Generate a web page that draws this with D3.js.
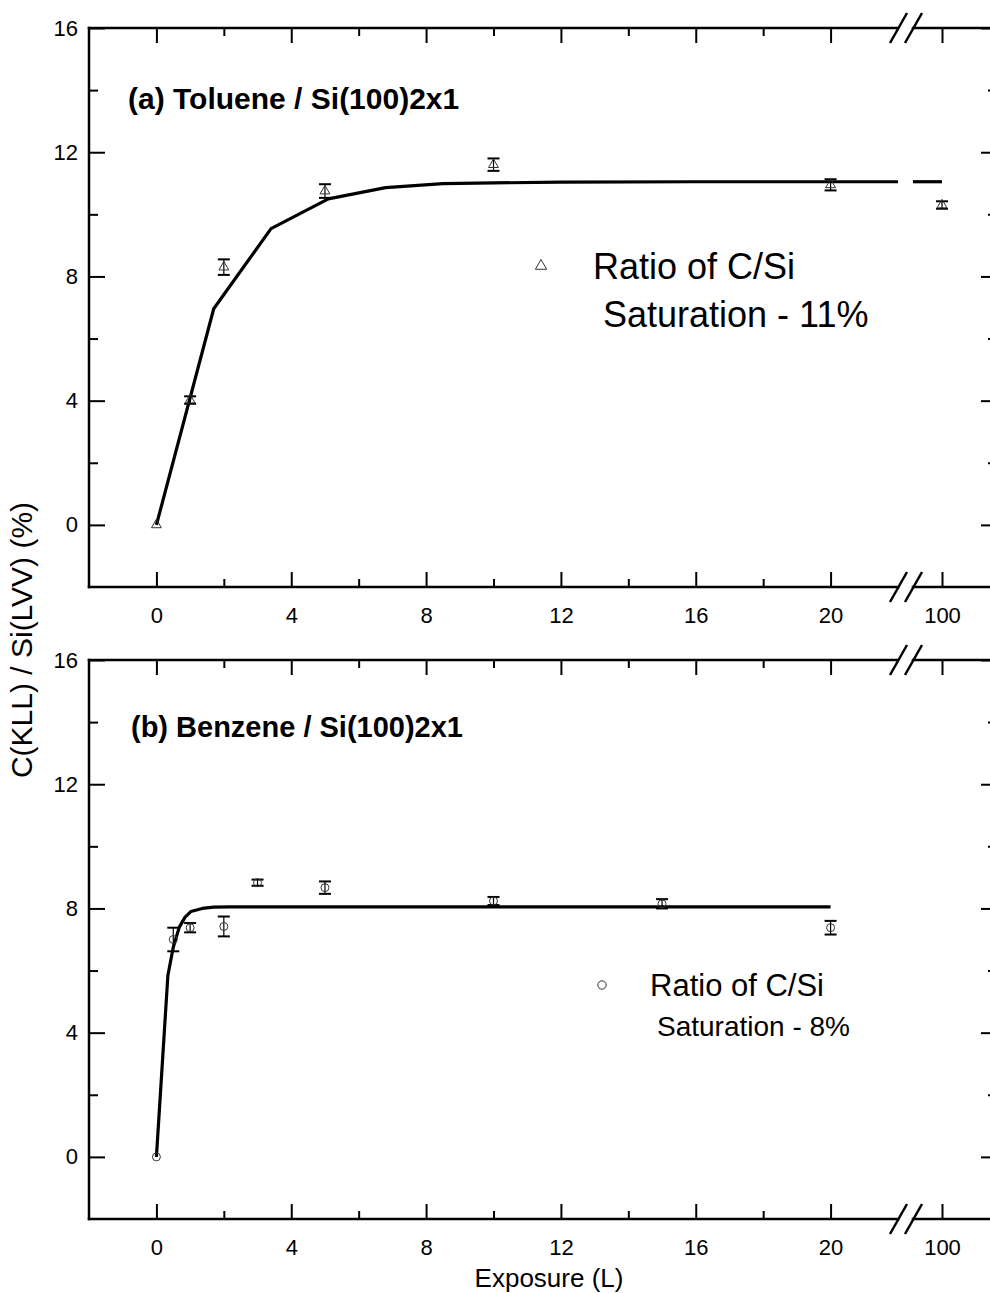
<!DOCTYPE html>
<html>
<head>
<meta charset="utf-8">
<script src="https://cdn.jsdelivr.net/npm/d3@7"></script>
<style>
  body { margin: 0; background: #fff; }
  svg { display: block; font-family: "Liberation Sans", Arial, sans-serif; }
  .domain { display: none; }
</style>
</head>
<body>
<div id="chart"></div>
<script>
// Toluene / Si(100)2x1 - measured points
var tolX = [0, 1, 2, 5, 10, 20, 100];
var tolY = [0, 4.02, 8.3, 10.75, 11.6, 10.95, 10.3];
var tolErr = [0, 0.12, 0.25, 0.22, 0.2, 0.18, 0.12];
// Toluene fit line
var tolFitX = [0, 1.7, 3.4, 5.1, 6.8, 8.5, 12, 16, 20, 22, 97.1, 100];
var tolFitY = [0, 6.96, 9.54, 10.5, 10.86, 10.99, 11.04, 11.05, 11.05, 11.05, 11.05, 11.05];

// Benzene / Si(100)2x1 - measured points
var benX = [0, 0.5, 1, 2, 3, 5, 10, 15, 20];
var benY = [0, 7.0, 7.38, 7.42, 8.83, 8.67, 8.24, 8.15, 7.38];
var benErr = [0, 0.38, 0.15, 0.32, 0.1, 0.2, 0.13, 0.15, 0.22];
// Benzene fit line
var benFitX = [0, 0.34, 0.5, 0.68, 0.85, 1.02, 1.36, 1.7, 2.2, 20];
var benFitY = [0, 5.84, 6.75, 7.4, 7.72, 7.9, 8.0, 8.04, 8.05, 8.05];

var xMajor = [0, 4, 8, 12, 16, 20];
var xMinor = [2, 6, 10, 14, 18];
var xBreakTicks = [100];
var yMajor = [0, 4, 8, 12, 16];
var yMinor = [2, 6, 10, 14];

var width = 990, height = 1293;
var left = 89, right = 997;
var breakL = 898, breakR = 913;

var svg = d3.select("#chart").append("svg")
    .attr("width", width)
    .attr("height", height);

// broken x axis: main part and the part around 100
var xMain = d3.scaleLinear().domain([-2, 22]).range([left, breakL]);
var xBrk = d3.scaleLinear().domain([97.1, 105.5]).range([breakR, right]);
function xp(v) { return v <= 22 ? xMain(v) : xBrk(v); }

function drawPanel(cfg) {
    var y = d3.scaleLinear().domain([-2, 16]).range([cfg.bottom, cfg.top]);
    var g = svg.append("g").attr("class", "panel");

    // ticks
    function addAxis(axis, tr) {
        var a = g.append("g").attr("transform", tr).call(axis);
        a.selectAll(".tick line").attr("stroke", "#000").attr("stroke-width", 2);
        a.selectAll(".tick text").attr("fill", "#000").style("font-size", "22px");
        return a;
    }
    addAxis(d3.axisBottom(xMain).tickValues(xMajor).tickSize(-15).tickPadding(20).tickFormat(d3.format("d")), "translate(0," + cfg.bottom + ")");
    addAxis(d3.axisBottom(xBrk).tickValues(xBreakTicks).tickSize(-15).tickPadding(20).tickFormat(d3.format("d")), "translate(0," + cfg.bottom + ")");
    addAxis(d3.axisBottom(xMain).tickValues(xMinor).tickSize(-8).tickFormat(""), "translate(0," + cfg.bottom + ")");
    addAxis(d3.axisTop(xMain).tickValues(xMajor).tickSize(-15).tickFormat(""), "translate(0," + cfg.top + ")");
    addAxis(d3.axisTop(xBrk).tickValues(xBreakTicks).tickSize(-15).tickFormat(""), "translate(0," + cfg.top + ")");
    addAxis(d3.axisTop(xMain).tickValues(xMinor).tickSize(-8).tickFormat(""), "translate(0," + cfg.top + ")");
    addAxis(d3.axisLeft(y).tickValues(yMajor).tickSize(-16).tickPadding(11), "translate(" + left + ",0)");
    addAxis(d3.axisLeft(y).tickValues(yMinor).tickSize(-9).tickFormat(""), "translate(" + left + ",0)");
    addAxis(d3.axisRight(y).tickValues(yMajor).tickSize(-16).tickFormat(""), "translate(" + right + ",0)");
    addAxis(d3.axisRight(y).tickValues(yMinor).tickSize(-9).tickFormat(""), "translate(" + right + ",0)");

    // frame with the gap for the axis break
    var frame = [
        [[left, cfg.top], [left, cfg.bottom]],
        [[right, cfg.top], [right, cfg.bottom]],
        [[left, cfg.top], [breakL, cfg.top]],
        [[breakR, cfg.top], [right, cfg.top]],
        [[left, cfg.bottom], [breakL, cfg.bottom]],
        [[breakR, cfg.bottom], [right, cfg.bottom]]
    ];
    g.selectAll("line.frame").data(frame).enter().append("line")
        .attr("class", "frame")
        .attr("x1", function (d) { return d[0][0]; })
        .attr("y1", function (d) { return d[0][1]; })
        .attr("x2", function (d) { return d[1][0]; })
        .attr("y2", function (d) { return d[1][1]; })
        .attr("stroke", "#000").attr("stroke-width", 2.5)
        .attr("stroke-linecap", "square");

    // break marks //
    [cfg.top, cfg.bottom].forEach(function (yy) {
        [890, 905].forEach(function (x0) {
            g.append("line")
                .attr("x1", x0).attr("y1", yy + 15)
                .attr("x2", x0 + 17).attr("y2", yy - 15)
                .attr("stroke", "#000").attr("stroke-width", 2.5);
        });
    });

    // fit line, split at the break
    var fit = cfg.fitX.map(function (d, i) { return { x: d, y: cfg.fitY[i] }; });
    var line = d3.line().x(function (d) { return xp(d.x); }).y(function (d) { return y(d.y); });
    var seg1 = fit.filter(function (d) { return d.x <= 22; });
    var seg2 = fit.filter(function (d) { return d.x > 22; });
    [seg1, seg2].forEach(function (s) {
        if (s.length < 2) return;
        g.append("path").datum(s)
            .attr("d", line)
            .attr("fill", "none")
            .attr("stroke", "#000")
            .attr("stroke-width", 3.2)
            .attr("stroke-linejoin", "round");
    });

    // points with error bars
    var pts = cfg.x.map(function (d, i) { return { x: d, y: cfg.y[i], e: cfg.err[i] }; });
    var eb = g.selectAll("g.err").data(pts.filter(function (d) { return d.e > 0; })).enter().append("g").attr("class", "err");
    eb.append("line")
        .attr("x1", function (d) { return xp(d.x); }).attr("x2", function (d) { return xp(d.x); })
        .attr("y1", function (d) { return y(d.y + d.e); }).attr("y2", function (d) { return y(d.y - d.e); })
        .attr("stroke", "#000").attr("stroke-width", 1.2);
    [1, -1].forEach(function (s) {
        eb.append("line")
            .attr("x1", function (d) { return xp(d.x) - 6; }).attr("x2", function (d) { return xp(d.x) + 6; })
            .attr("y1", function (d) { return y(d.y + s * d.e); }).attr("y2", function (d) { return y(d.y + s * d.e); })
            .attr("stroke", "#000").attr("stroke-width", 2);
    });

    var sym = d3.symbol().type(cfg.shape).size(cfg.shape === d3.symbolTriangle ? 42 : 50);
    g.selectAll("path.pt").data(pts).enter().append("path")
        .attr("class", "pt")
        .attr("d", sym)
        .attr("transform", function (d) { return "translate(" + xp(d.x) + "," + y(d.y) + ")"; })
        .attr("fill", "none")
        .attr("stroke", "#333")
        .attr("stroke-width", 1);

    // title
    g.append("text")
        .attr("x", cfg.titleX).attr("y", cfg.titleY)
        .style("font-size", cfg.titleSize + "px").style("font-weight", "bold")
        .text(cfg.title);

    // legend
    g.append("path")
        .attr("d", d3.symbol().type(cfg.shape).size(55))
        .attr("transform", "translate(" + cfg.legX + "," + cfg.legY + ")")
        .attr("fill", "none").attr("stroke", "#333").attr("stroke-width", 1);
    g.append("text")
        .attr("x", cfg.leg1X).attr("y", cfg.leg1Y)
        .style("font-size", cfg.leg1Size + "px")
        .text("Ratio of C/Si");
    g.append("text")
        .attr("x", cfg.leg2X).attr("y", cfg.leg2Y)
        .style("font-size", cfg.leg2Size + "px")
        .text(cfg.sat);
}

drawPanel({
    top: 28, bottom: 587,
    x: tolX, y: tolY, err: tolErr, fitX: tolFitX, fitY: tolFitY,
    shape: d3.symbolTriangle,
    title: "(a) Toluene / Si(100)2x1", titleX: 128, titleY: 109, titleSize: 30,
    legX: 541, legY: 266, leg1X: 593, leg1Y: 279, leg1Size: 36,
    leg2X: 603, leg2Y: 327, leg2Size: 36, sat: "Saturation - 11%"
});

drawPanel({
    top: 660, bottom: 1219,
    x: benX, y: benY, err: benErr, fitX: benFitX, fitY: benFitY,
    shape: d3.symbolCircle,
    title: "(b) Benzene / Si(100)2x1", titleX: 131, titleY: 737, titleSize: 29,
    legX: 602, legY: 985, leg1X: 650, leg1Y: 996, leg1Size: 31,
    leg2X: 657, leg2Y: 1036, leg2Size: 28, sat: "Saturation - 8%"
});

// shared axis titles
svg.append("text")
    .attr("transform", "translate(32,640) rotate(-90)")
    .attr("text-anchor", "middle")
    .style("font-size", "30px")
    .text("C(KLL) / Si(LVV) (%)");

svg.append("text")
    .attr("x", 549).attr("y", 1287)
    .attr("text-anchor", "middle")
    .style("font-size", "26px")
    .text("Exposure (L)");
</script>
</body>
</html>
